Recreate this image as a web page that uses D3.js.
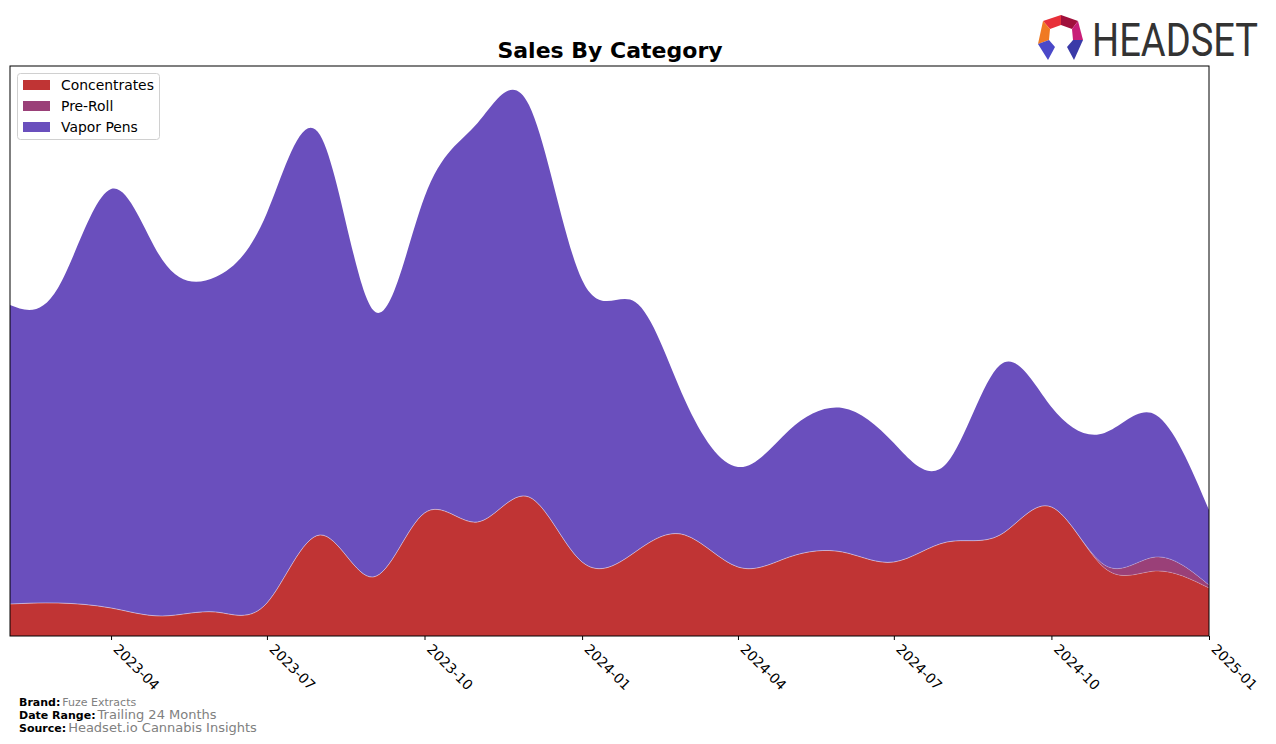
<!DOCTYPE html>
<html>
<head>
<meta charset="utf-8">
<script src="https://cdn.jsdelivr.net/npm/d3@7"></script>
<style>
  html, body { margin: 0; padding: 0; background: #fff; }
  svg { display: block; }
</style>
</head>
<body>
<svg id="chart" width="1276" height="744"></svg>
<script>
// ---- Data (monthly sales, arbitrary units) ----
const months = ["2023-02","2023-03","2023-04","2023-05","2023-06","2023-07","2023-08","2023-09","2023-10","2023-11","2023-12",
  "2024-01","2024-02","2024-03","2024-04","2024-05","2024-06","2024-07","2024-08","2024-09","2024-10","2024-11","2024-12","2025-01"];
const concentrates = [32,33,28,20,24,33,101,59,123,114,139,74,84,101,69,79,84,74,94,101,129,68,65,48];
const preRoll      = [0,0,0,0,0,0,0,0,0,0,0,0,0,0,0,0,0,0,0,0,0,3,14,3];
const vaporPens    = [299,315,419,356,335,390,400,267,316,399,392,282,250,135,100,127,144,119,79,170,100,132,142,75];
const seriesNames  = ["Concentrates","Pre-Roll","Vapor Pens"];
const seriesColors = ["#c03434","#9a4078","#6a4fbd"];
const tickLabels   = ["2023-04","2023-07","2023-10","2024-01","2024-04","2024-07","2024-10","2025-01"];

const parse = d3.timeParse("%Y-%m");
const rows = months.map((m, i) => ({
  date: parse(m),
  "Concentrates": concentrates[i],
  "Pre-Roll": preRoll[i],
  "Vapor Pens": vaporPens[i]
}));

const svg = d3.select("#chart");
const L = 10, R = 1209, T = 66, B = 636;

const x = d3.scaleTime().domain([parse(months[0]), parse(months[months.length-1])]).range([L, R]);
const y = d3.scaleLinear().domain([0, 570]).range([B, T]);

const stack = d3.stack().keys(seriesNames);
const layers = stack(rows);

const area = d3.area()
  .x(d => x(d.data.date))
  .y0(d => y(d[0]))
  .y1(d => y(d[1]))
  .curve(d3.curveNatural);
const topLine = d3.line()
  .x(d => x(d.data.date))
  .y(d => y(d[1]))
  .curve(d3.curveNatural);

svg.append("defs").append("clipPath").attr("id", "clip")
  .append("rect").attr("x", L).attr("y", T).attr("width", R - L).attr("height", B - T);

const g = svg.append("g").attr("clip-path", "url(#clip)");
g.selectAll("path.layer").data(layers).join("path")
  .attr("class", "layer")
  .attr("d", area)
  .attr("fill", (d, i) => seriesColors[i]);
g.selectAll("path.edge").data(layers.slice(0, 2)).join("path")
  .attr("class", "edge")
  .attr("d", topLine)
  .attr("fill", "none")
  .attr("stroke", "rgba(255,255,255,0.3)")
  .attr("stroke-width", 0.8);

// Axes frame
svg.append("rect").attr("x", L).attr("y", T).attr("width", R - L).attr("height", B - T)
  .attr("fill", "none").attr("stroke", "#000").attr("stroke-width", 1);

// X axis
const tickDates = tickLabels.map(parse);
const xAxis = svg.append("g").attr("transform", `translate(0,${B})`)
  .call(d3.axisBottom(x).tickValues(tickDates).tickFormat(d3.timeFormat("%Y-%m")).tickSizeOuter(0).tickSize(4));
xAxis.select(".domain").remove();
xAxis.selectAll("line").attr("stroke", "#000");
xAxis.selectAll("text")
  .attr("font-family", "DejaVu Sans, sans-serif")
  .attr("font-size", 13.9)
  .attr("fill", "#000")
  .attr("text-anchor", "start")
  .attr("dy", null)
  .attr("y", 0)
  .attr("transform", "translate(1,14) rotate(45)");

// Title
svg.append("text").attr("x", 610).attr("y", 58)
  .attr("text-anchor", "middle")
  .attr("font-family", "DejaVu Sans, sans-serif")
  .attr("font-weight", "bold").attr("font-size", 22)
  .text("Sales By Category");

// Legend
const lg = svg.append("g");
lg.append("rect").attr("x", 17.5).attr("y", 73.5).attr("width", 142).attr("height", 66)
  .attr("rx", 3).attr("fill", "#fff").attr("fill-opacity", 0.8)
  .attr("stroke", "#d0d0d0").attr("stroke-width", 1);
seriesNames.forEach((name, i) => {
  lg.append("rect").attr("x", 23).attr("y", 80 + i * 21).attr("width", 27).attr("height", 10)
    .attr("fill", seriesColors[i]);
  lg.append("text").attr("x", 61).attr("y", 90 + i * 21)
    .attr("font-family", "DejaVu Sans, sans-serif").attr("font-size", 13.9)
    .attr("fill", "#000").text(name);
});

// Footer
const foot = [
  ["Brand:", "Fuze Extracts", 11, 706],
  ["Date Range:", "Trailing 24 Months", 13, 719],
  ["Source:", "Headset.io Cannabis Insights", 13, 732]
];
foot.forEach(([lab, val, fs, yy]) => {
  const t = svg.append("text").attr("x", 19).attr("y", yy)
    .attr("font-family", "DejaVu Sans, sans-serif");
  t.append("tspan").attr("font-weight", "bold").attr("font-size", 11).attr("fill", "#000").text(lab);
  t.append("tspan").attr("font-size", fs).attr("fill", "#808080").attr("dx", 2).text(val);
});

// Logo
const logo = svg.append("g");
const pieces = [
  { pts: [[1043,21],[1061,15],[1061,25],[1050,29]], c: "#e8303a" },
  { pts: [[1061,15],[1078,21],[1072,29],[1061,25]], c: "#a0103c" },
  { pts: [[1078,21],[1083,40],[1073,40],[1072,29]], c: "#c81e78" },
  { pts: [[1043,21],[1050,29],[1049,40],[1038,44]], c: "#f07a22" },
  { pts: [[1038,44],[1049,40],[1055,47],[1048,60]], c: "#4a48c8" },
  { pts: [[1083,40],[1073,40],[1067,47],[1074,60]], c: "#3a3aa8" }
];
pieces.forEach(p => {
  logo.append("polygon").attr("points", p.pts.map(q => q.join(",")).join(" ")).attr("fill", p.c);
});
const logoText = logo.append("text")
  .attr("x", 0).attr("y", 0)
  .attr("font-family", "Liberation Sans Narrow, Roboto, sans-serif")
  .attr("font-size", 47).attr("fill", "#333")
  .text("HEADSET");
const natural = logoText.node().getComputedTextLength();
logoText.attr("transform", `translate(1092,56) scale(${166 / natural},1)`);
</script>
</body>
</html>
